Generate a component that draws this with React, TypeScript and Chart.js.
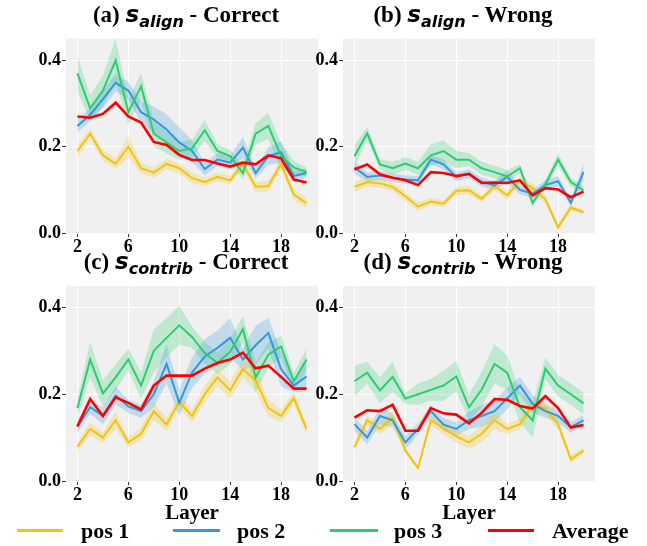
import React, { useEffect, useRef } from "react";
import { Chart, registerables } from "chart.js";
Chart.register(...registerables);

const layers = [2, 3, 4, 5, 6, 7, 8, 9, 10, 11, 12, 13, 14, 15, 16, 17, 18, 19, 20];
const xTicks = [2, 6, 10, 14, 18];
const yTicks = [0, 0.2, 0.4];
const seriesNames = ["pos 1", "pos 2", "pos 3", "Average"];
const seriesColors = ["#f1c40f", "#3498db", "#2ecc71", "#ff0000"];
const bandColors = ["rgba(241,196,15,0.25)", "rgba(52,152,219,0.25)", "rgba(46,204,113,0.25)", "rgba(255,0,0,0.2)"];

// (a) s_align - Correct
const alignCorrectPos1 = [0.19, 0.23, 0.18, 0.16, 0.2, 0.15, 0.14, 0.16, 0.15, 0.127, 0.118, 0.13, 0.122, 0.16, 0.107, 0.109, 0.16, 0.089, 0.069];
const alignCorrectPos2 = [0.248, 0.274, 0.31, 0.348, 0.33, 0.28, 0.263, 0.24, 0.21, 0.19, 0.148, 0.17, 0.163, 0.198, 0.139, 0.178, 0.187, 0.132, 0.139];
const alignCorrectPos3 = [0.37, 0.289, 0.33, 0.4, 0.28, 0.34, 0.23, 0.21, 0.19, 0.196, 0.238, 0.19, 0.178, 0.139, 0.23, 0.248, 0.178, 0.152, 0.141];
const alignCorrectAvg = [0.27, 0.267, 0.276, 0.302, 0.27, 0.256, 0.211, 0.204, 0.181, 0.169, 0.169, 0.161, 0.154, 0.163, 0.159, 0.18, 0.173, 0.124, 0.117];
const alignCorrectBand1 = [0.015, 0.012, 0.012, 0.012, 0.025, 0.012, 0.012, 0.012, 0.012, 0.012, 0.01, 0.01, 0.01, 0.01, 0.012, 0.012, 0.012, 0.012, 0.012];
const alignCorrectBand2 = [0.015, 0.015, 0.02, 0.02, 0.02, 0.025, 0.03, 0.035, 0.035, 0.025, 0.015, 0.015, 0.015, 0.025, 0.012, 0.02, 0.025, 0.012, 0.01];
const alignCorrectBand3 = [0.04, 0.03, 0.035, 0.05, 0.03, 0.03, 0.03, 0.025, 0.02, 0.02, 0.025, 0.015, 0.015, 0.015, 0.025, 0.03, 0.03, 0.015, 0.01];

// (b) s_align - Wrong
const alignWrongPos1 = [0.107, 0.118, 0.115, 0.107, 0.085, 0.061, 0.073, 0.068, 0.098, 0.099, 0.079, 0.109, 0.087, 0.122, 0.104, 0.078, 0.013, 0.059, 0.048];
const alignWrongPos2 = [0.152, 0.13, 0.133, 0.128, 0.124, 0.122, 0.17, 0.159, 0.13, 0.137, 0.118, 0.11, 0.13, 0.1, 0.091, 0.111, 0.12, 0.07, 0.141];
const alignWrongPos3 = [0.178, 0.231, 0.159, 0.15, 0.161, 0.15, 0.18, 0.19, 0.17, 0.17, 0.15, 0.141, 0.131, 0.15, 0.07, 0.113, 0.17, 0.118, 0.099];
const alignWrongAvg = [0.147, 0.159, 0.136, 0.128, 0.122, 0.111, 0.141, 0.139, 0.132, 0.137, 0.116, 0.117, 0.116, 0.122, 0.087, 0.104, 0.101, 0.083, 0.096];
const alignWrongBand1 = [0.012, 0.01, 0.01, 0.01, 0.01, 0.01, 0.008, 0.008, 0.01, 0.01, 0.008, 0.01, 0.01, 0.01, 0.01, 0.01, 0.008, 0.008, 0.005];
const alignWrongBand2 = [0.015, 0.01, 0.01, 0.01, 0.01, 0.01, 0.01, 0.012, 0.01, 0.01, 0.01, 0.01, 0.015, 0.01, 0.01, 0.01, 0.012, 0.008, 0.02];
const alignWrongBand3 = [0.025, 0.015, 0.012, 0.015, 0.015, 0.015, 0.025, 0.025, 0.02, 0.015, 0.015, 0.015, 0.015, 0.01, 0.01, 0.01, 0.015, 0.01, 0.01];

// (c) s_contrib - Correct
const contribCorrectPos1 = [0.079, 0.12, 0.1, 0.14, 0.089, 0.109, 0.161, 0.13, 0.183, 0.15, 0.2, 0.239, 0.209, 0.258, 0.232, 0.168, 0.15, 0.191, 0.12];
const contribCorrectPos2 = [0.126, 0.17, 0.15, 0.197, 0.172, 0.161, 0.2, 0.27, 0.18, 0.25, 0.287, 0.307, 0.33, 0.28, 0.313, 0.341, 0.258, 0.22, 0.241];
const contribCorrectPos3 = [0.168, 0.28, 0.202, 0.239, 0.28, 0.22, 0.3, 0.33, 0.359, 0.332, 0.295, 0.272, 0.298, 0.35, 0.239, 0.291, 0.31, 0.23, 0.28];
const contribCorrectAvg = [0.126, 0.189, 0.15, 0.193, 0.18, 0.165, 0.22, 0.243, 0.243, 0.243, 0.259, 0.272, 0.28, 0.296, 0.26, 0.266, 0.24, 0.213, 0.213];
const contribCorrectBand1 = [0.01, 0.015, 0.012, 0.02, 0.012, 0.015, 0.02, 0.015, 0.015, 0.015, 0.02, 0.02, 0.02, 0.02, 0.025, 0.02, 0.015, 0.015, 0.012];
const contribCorrectBand2 = [0.015, 0.015, 0.02, 0.02, 0.015, 0.015, 0.03, 0.045, 0.03, 0.035, 0.04, 0.04, 0.045, 0.025, 0.045, 0.035, 0.04, 0.015, 0.035];
const contribCorrectBand3 = [0.02, 0.04, 0.03, 0.03, 0.025, 0.03, 0.05, 0.045, 0.045, 0.025, 0.025, 0.025, 0.03, 0.03, 0.035, 0.03, 0.025, 0.02, 0.025];

// (d) s_contrib - Wrong
const contribWrongPos1 = [0.078, 0.14, 0.12, 0.146, 0.07, 0.03, 0.14, 0.122, 0.103, 0.089, 0.109, 0.14, 0.12, 0.131, 0.176, 0.168, 0.131, 0.05, 0.07];
const contribWrongPos2 = [0.131, 0.1, 0.15, 0.14, 0.089, 0.12, 0.161, 0.13, 0.12, 0.14, 0.15, 0.161, 0.19, 0.22, 0.178, 0.161, 0.15, 0.124, 0.14];
const contribWrongPos3 = [0.23, 0.25, 0.209, 0.24, 0.19, 0.2, 0.21, 0.22, 0.241, 0.17, 0.211, 0.27, 0.25, 0.17, 0.14, 0.259, 0.22, 0.2, 0.179];
const contribWrongAvg = [0.146, 0.163, 0.161, 0.176, 0.116, 0.116, 0.168, 0.156, 0.153, 0.133, 0.157, 0.189, 0.187, 0.173, 0.167, 0.196, 0.168, 0.123, 0.129];
const contribWrongBand1 = [0.01, 0.01, 0.012, 0.015, 0.008, 0.005, 0.012, 0.015, 0.015, 0.015, 0.02, 0.02, 0.012, 0.012, 0.01, 0.015, 0.012, 0.008, 0.008];
const contribWrongBand2 = [0.015, 0.015, 0.02, 0.015, 0.015, 0.012, 0.015, 0.015, 0.015, 0.02, 0.025, 0.025, 0.025, 0.02, 0.02, 0.015, 0.015, 0.012, 0.012];
const contribWrongBand3 = [0.035, 0.025, 0.03, 0.035, 0.012, 0.025, 0.025, 0.035, 0.035, 0.03, 0.04, 0.045, 0.04, 0.035, 0.04, 0.025, 0.025, 0.025, 0.025];

const SERIF = "'Liberation Serif', 'Times New Roman', serif";
const SANS = "'DejaVu Sans', sans-serif";

type PanelSpec = {
  letter: string;
  sub: string;
  outcome: string;
  means: number[][];
  bands: (number[] | null)[];
  left: number;
  top: number;
  w: number;
  h: number;
};

const panels: PanelSpec[] = [
  { letter: "(a)", sub: "align", outcome: "Correct", means: [alignCorrectPos1, alignCorrectPos2, alignCorrectPos3, alignCorrectAvg], bands: [alignCorrectBand1, alignCorrectBand2, alignCorrectBand3, null], left: 66, top: 31, w: 252, h: 202 },
  { letter: "(b)", sub: "align", outcome: "Wrong", means: [alignWrongPos1, alignWrongPos2, alignWrongPos3, alignWrongAvg], bands: [alignWrongBand1, alignWrongBand2, alignWrongBand3, null], left: 343, top: 31, w: 252, h: 202 },
  { letter: "(c)", sub: "contrib", outcome: "Correct", means: [contribCorrectPos1, contribCorrectPos2, contribCorrectPos3, contribCorrectAvg], bands: [contribCorrectBand1, contribCorrectBand2, contribCorrectBand3, null], left: 66, top: 278, w: 252, h: 203 },
  { letter: "(d)", sub: "contrib", outcome: "Wrong", means: [contribWrongPos1, contribWrongPos2, contribWrongPos3, contribWrongAvg], bands: [contribWrongBand1, contribWrongBand2, contribWrongBand3, null], left: 343, top: 278, w: 252, h: 203 },
];

const PADL = 50;
const PADT = 4;
const PADR = 4;
const PADB = 24;

const bgPlugin = {
  id: "bgPlugin",
  beforeDraw(chart: any) {
    const { ctx, chartArea } = chart;
    if (!chartArea) return;
    ctx.save();
    ctx.fillStyle = "#f0f0f0";
    ctx.fillRect(chartArea.left, chartArea.top, chartArea.right - chartArea.left, chartArea.bottom - chartArea.top);
    ctx.restore();
  },
};

function Panel({ spec }: { spec: PanelSpec }) {
  const ref = useRef<HTMLCanvasElement | null>(null);
  useEffect(() => {
    if (!ref.current) return;
    const datasets: any[] = [];
    spec.means.forEach((m, si) => {
      const b = spec.bands[si];
      if (!b) return;
      datasets.push({
        data: layers.map((x, i) => ({ x, y: m[i] - b[i] })),
        borderWidth: 0,
        pointRadius: 0,
        fill: false,
        order: 10,
      });
      datasets.push({
        data: layers.map((x, i) => ({ x, y: m[i] + b[i] })),
        borderWidth: 0,
        pointRadius: 0,
        fill: "-1",
        backgroundColor: bandColors[si],
        order: 10,
      });
    });
    spec.means.forEach((m, si) => {
      datasets.push({
        label: seriesNames[si],
        data: layers.map((x, i) => ({ x, y: m[i] })),
        borderColor: seriesColors[si],
        borderWidth: si === 3 ? 2.6 : 2,
        pointRadius: 0,
        fill: false,
        tension: 0,
        order: 4 - si,
      });
    });
    const tickFont = { family: SERIF, weight: "bold" as const, size: 18 };
    const chart = new Chart(ref.current, {
      type: "line",
      data: { datasets },
      options: {
        animation: false,
        responsive: false,
        maintainAspectRatio: false,
        devicePixelRatio: 1,
        layout: { padding: { left: 0, top: PADT, right: PADR, bottom: 0 } },
        plugins: { legend: { display: false }, tooltip: { enabled: false } },
        scales: {
          x: {
            type: "linear",
            min: 1.1,
            max: 20.9,
            afterBuildTicks: (s: any) => {
              s.ticks = xTicks.map((v) => ({ value: v }));
            },
            afterFit: (s: any) => {
              s.height = PADB;
            },
            ticks: { font: tickFont, color: "#000", padding: 0, maxRotation: 0, callback: (v: any) => String(v) },
            grid: { color: "#ffffff", lineWidth: 1, borderDash: [3, 2], tickColor: "#333", tickLength: 4, tickBorderDash: [], tickWidth: 1 } as any,
            border: { display: false },
          },
          y: {
            type: "linear",
            min: 0,
            max: 0.45,
            afterBuildTicks: (s: any) => {
              s.ticks = yTicks.map((v) => ({ value: v }));
            },
            afterFit: (s: any) => {
              s.width = PADL;
            },
            ticks: { font: tickFont, color: "#000", padding: 1, callback: (v: any) => Number(v).toFixed(1) },
            grid: { color: "#ffffff", lineWidth: 1, borderDash: [3, 2], tickColor: "#333", tickLength: 4, tickBorderDash: [], tickWidth: 1 } as any,
            border: { display: false },
          },
        },
      } as any,
      plugins: [bgPlugin],
    });
    return () => chart.destroy();
  }, [spec]);
  const W = PADL + spec.w + PADR;
  const H = PADT + spec.h + PADB;
  return (
    <>
      <canvas
        ref={ref}
        width={W}
        height={H}
        style={{ position: "absolute", left: spec.left - PADL, top: spec.top - PADT, width: W, height: H }}
      />
      <div
        style={{
          position: "absolute",
          left: spec.left - 6,
          width: spec.w,
          top: spec.top - 28,
          textAlign: "center",
          fontFamily: SERIF,
          fontWeight: "bold",
          fontSize: 23,
          lineHeight: "23px",
          whiteSpace: "nowrap",
          color: "#000",
        }}
      >
        {spec.letter}{" "}
        <span style={{ fontFamily: SANS, fontStyle: "italic", fontWeight: "bold" }}>s</span>
        <span style={{ fontFamily: SANS, fontStyle: "italic", fontWeight: "bold", fontSize: 16, position: "relative", top: 5 }}>
          {spec.sub}
        </span>{" "}
        - {spec.outcome}
      </div>
    </>
  );
}

const legendItems = [
  { lineL: 17, lineR: 63, textL: 81 },
  { lineL: 173, lineR: 220, textL: 237 },
  { lineL: 330, lineR: 378, textL: 394 },
  { lineL: 488, lineR: 534, textL: 552 },
];

export default function App() {
  return (
    <div style={{ position: "absolute", left: 0, top: 0, width: 647, height: 546, background: "#fff", overflow: "hidden" }}>
      {panels.map((p, i) => (
        <Panel key={i} spec={p} />
      ))}
      {[66, 343].map((l, i) => (
        <div
          key={"xl" + i}
          style={{ position: "absolute", left: l, width: 252, top: 502, textAlign: "center", fontFamily: SERIF, fontWeight: "bold", fontSize: 21, lineHeight: "21px" }}
        >
          Layer
        </div>
      ))}
      {legendItems.map((it, i) => (
        <React.Fragment key={"lg" + i}>
          <div style={{ position: "absolute", left: it.lineL, width: it.lineR - it.lineL, top: 529, height: 3, background: seriesColors[i] }} />
          <div style={{ position: "absolute", left: it.textL, top: 520, fontFamily: SERIF, fontWeight: "bold", fontSize: 22, lineHeight: "22px", whiteSpace: "nowrap" }}>
            {seriesNames[i]}
          </div>
        </React.Fragment>
      ))}
    </div>
  );
}
